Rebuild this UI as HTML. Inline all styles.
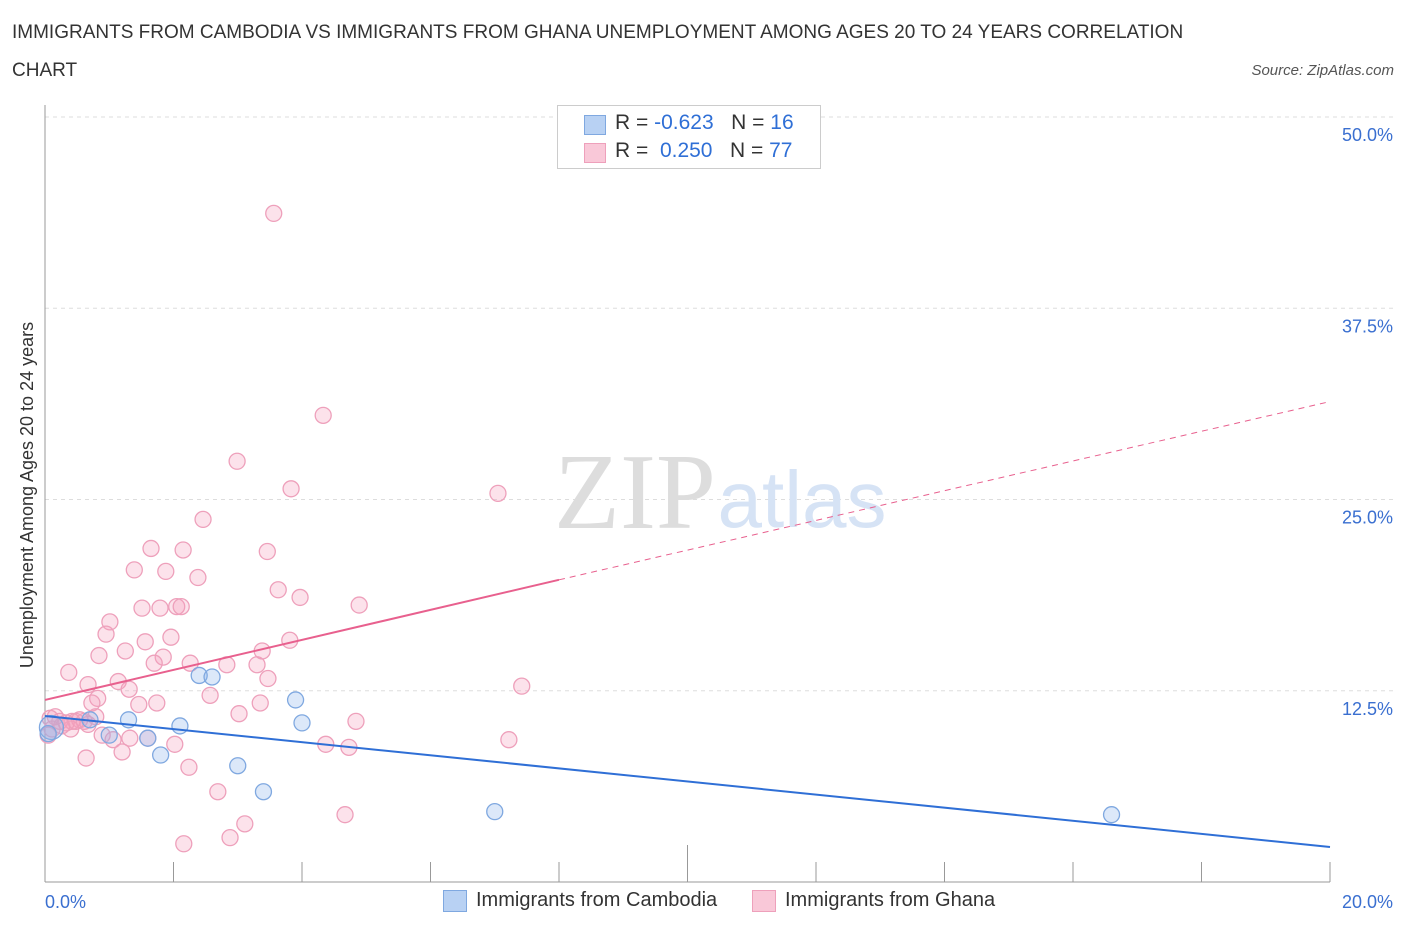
<!DOCTYPE html>
<html><head><meta charset="utf-8"><style>
body{margin:0;background:#fff;font-family:"Liberation Sans",sans-serif;}
#wrap{position:relative;width:1406px;height:930px;overflow:hidden;}
.t{position:absolute;white-space:nowrap;}
</style></head><body>
<div id="wrap">
<div class="t" style="left:12px;top:22px;font-size:19px;color:#333;">IMMIGRANTS FROM CAMBODIA VS IMMIGRANTS FROM GHANA UNEMPLOYMENT AMONG AGES 20 TO 24 YEARS CORRELATION</div>
<div class="t" style="left:12px;top:60px;font-size:19px;color:#333;">CHART</div>
<div class="t" style="right:12px;top:62px;font-size:15px;color:#555;font-style:italic;">Source: ZipAtlas.com</div>
<svg id="svg" width="1406" height="930" style="position:absolute;left:0;top:0"></svg>
</div>
<script>
const xTicks=[0,20];
const yTicks=[12.5,25,37.5,50];
const blueX=[0.1,0.7,1.0,1.3,1.6,1.8,2.1,2.4,2.6,3.0,3.4,3.9,4.0,7.0,16.6,0.05];
const blueY=[10.1,10.6,9.6,10.6,9.4,8.3,10.2,13.5,13.4,7.6,5.9,11.9,10.4,4.6,4.4,9.7];
const pinkX=[3.56,4.33,2.99,3.83,7.05,2.46,1.65,2.15,3.46,1.39,1.88,2.38,3.63,3.97,1.51,1.79,2.05,2.12,4.89,1.01,0.95,1.96,1.56,3.81,0.84,1.25,1.84,1.70,2.26,2.83,3.38,3.30,0.37,0.67,1.14,1.31,2.57,3.47,0.82,0.73,1.46,1.74,3.35,7.42,3.02,0.16,0.23,0.33,0.42,0.54,0.61,0.79,0.08,4.84,0.40,0.89,1.06,1.32,1.60,2.02,1.20,4.37,4.73,7.22,0.64,2.24,2.69,3.11,2.88,4.67,2.16,0.05,0.26,0.48,0.67,0.11];
const pinkY=[43.7,30.5,27.5,25.7,25.4,23.7,21.8,21.7,21.6,20.4,20.3,19.9,19.1,18.6,17.9,17.9,18.0,18.0,18.1,17.0,16.2,16.0,15.7,15.8,14.8,15.1,14.7,14.3,14.3,14.2,15.1,14.2,13.7,12.9,13.1,12.6,12.2,13.3,12.0,11.7,11.6,11.7,11.7,12.8,11.0,10.8,10.5,10.4,10.5,10.6,10.5,10.8,10.7,10.5,10.0,9.6,9.3,9.4,9.4,9.0,8.5,9.0,8.8,9.3,8.1,7.5,5.9,3.8,2.9,4.4,2.5,9.6,10.2,10.5,10.3,10.0];
const blueLine=[[0,10.85],[20,2.29]];
const pinkSolid=[[0,11.9],[8.0,19.75]];
const pinkDash=[[8.0,19.75],[20,31.4]];
const X=v=>45+v*64.25, Y=v=>882-v*15.3;
const svg=document.getElementById('svg');
const NS='http://www.w3.org/2000/svg';
function mk(t,a){const e=document.createElementNS(NS,t);for(const k in a)e.setAttribute(k,a[k]);svg.appendChild(e);return e;}
yTicks.forEach(v=>{
 const g=mk('line',{x1:45,x2:1395,y1:Y(v),y2:Y(v),stroke:'#ddd','stroke-dasharray':'4,4'});
 
 
 const t=mk('text',{x:1393,y:Y(v)+24,'text-anchor':'end','font-size':18,fill:'#3a6fd0'});
 t.textContent=v.toFixed(1)+'%';
 
 
});
let a=mk('line',{x1:45,x2:45,y1:105,y2:882,stroke:'#999'});


a=mk('line',{x1:45,x2:1330,y1:882,y2:882,stroke:'#999'});


for(let i=0;i<=10;i++){
 const l=mk('line',{x1:X(i*2),x2:X(i*2),y1:i==5?845:862,y2:882,stroke:'#999'});
 
 
}
xTicks.forEach((v,i)=>{
 const t=mk('text',{x:i==0?45:1393,y:908,'text-anchor':i==0?'start':'end','font-size':18,fill:'#3a6fd0'});
 t.textContent=v.toFixed(1)+'%';
 
 
});
let w=mk('text',{x:635,y:528,'text-anchor':'middle','font-size':108,fill:'#ddd','font-family':'Liberation Serif'});w.textContent='ZIP';


w=mk('text',{x:802,y:527,'text-anchor':'middle','font-size':80,fill:'#d6e3f5'});w.textContent='atlas';


const yt=mk('text',{x:0,y:0,transform:'translate(33,495) rotate(-90)','text-anchor':'middle','font-size':18,fill:'#333'});
yt.textContent='Unemployment Among Ages 20 to 24 years';


pinkX.forEach((x,i)=>{
 const c=mk('circle',{cx:X(x),cy:Y(pinkY[i]),r:8,fill:'rgba(244,160,190,0.3)',stroke:'#eea0bb','stroke-width':1.3});
 
 
});
blueX.forEach((x,i)=>{
 const c=mk('circle',{cx:X(x),cy:Y(blueY[i]),r:i==0?12:8,fill:'rgba(140,180,235,0.3)',stroke:'#7fa8e0','stroke-width':1.3});
 
 
});
let ln=mk('line',{x1:X(blueLine[0][0]),y1:Y(blueLine[0][1]),x2:X(blueLine[1][0]),y2:Y(blueLine[1][1]),stroke:'#2f6fd6','stroke-width':2});


ln=mk('line',{x1:X(pinkSolid[0][0]),y1:Y(pinkSolid[0][1]),x2:X(pinkSolid[1][0]),y2:Y(pinkSolid[1][1]),stroke:'#e8608e','stroke-width':2});


ln=mk('line',{x1:X(pinkDash[0][0]),y1:Y(pinkDash[0][1]),x2:X(pinkDash[1][0]),y2:Y(pinkDash[1][1]),stroke:'#e8608e','stroke-width':1,'stroke-dasharray':'6,5'});


</script>
<div style="position:absolute;left:557px;top:105px;width:262px;height:62px;border:1px solid #ccc;background:#fff;font-size:21px;color:#333;">
 <div style="position:absolute;left:26px;top:9px;width:20px;height:18px;background:#b8d1f3;border:1px solid #7fa8e0;"></div>
 <div class="t" style="left:57px;top:5px;">R = <span style="color:#2f6fd6">-0.623</span>&nbsp;&nbsp;&nbsp;N = <span style="color:#2f6fd6">16</span></div>
 <div style="position:absolute;left:26px;top:37px;width:20px;height:18px;background:#f9c8d8;border:1px solid #eea0bb;"></div>
 <div class="t" style="left:57px;top:33px;">R = &nbsp;<span style="color:#2f6fd6">0.250</span>&nbsp;&nbsp;&nbsp;N = <span style="color:#2f6fd6">77</span></div>
</div>
<div style="position:absolute;left:443px;top:890px;width:22px;height:20px;background:#b8d1f3;border:1px solid #7fa8e0;"></div>
<div class="t" style="left:476px;top:889px;font-size:20px;color:#333;">Immigrants from Cambodia</div>
<div style="position:absolute;left:752px;top:890px;width:22px;height:20px;background:#f9c8d8;border:1px solid #eea0bb;"></div>
<div class="t" style="left:785px;top:889px;font-size:20px;color:#333;">Immigrants from Ghana</div>
</body></html>
